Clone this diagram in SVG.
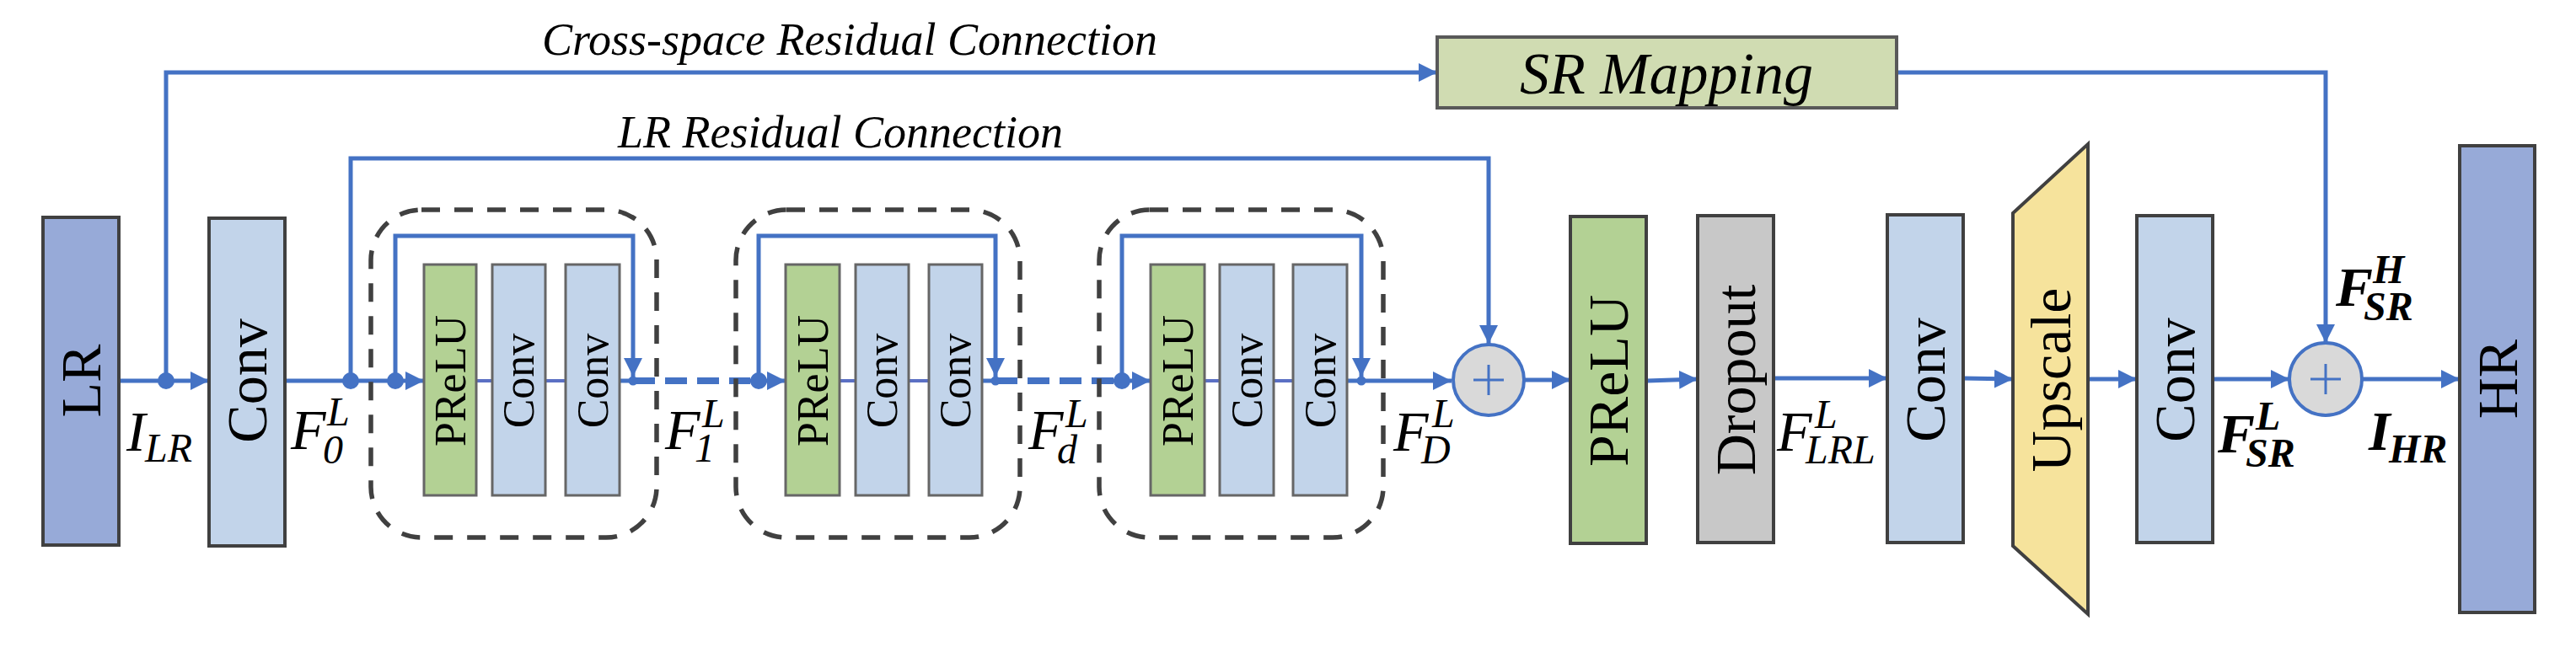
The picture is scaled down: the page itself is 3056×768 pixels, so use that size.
<svg xmlns="http://www.w3.org/2000/svg" width="3056" height="768" viewBox="0 0 3056 768">
<defs>
<marker id="ar" markerUnits="userSpaceOnUse" markerWidth="22" markerHeight="22" refX="22" refY="11" orient="auto">
<path d="M0,0 L22,11 L0,22 z" fill="#4472c4"/>
</marker>
<style>
.big{stroke:#404040;stroke-width:4}
.sm{stroke:#666;stroke-width:3}
.blue{fill:#97aad8}
.conv{fill:#c2d4ea}
.prelu{fill:#b3d194}
.ln{fill:none;stroke:#4472c4;stroke-width:5}
.thin{fill:none;stroke:#5b70c4;stroke-width:4}
.dash{fill:none;stroke:#4472c4;stroke-width:8;stroke-dasharray:26 12}
.dbox{fill:none;stroke:#404040;stroke-width:5.5;stroke-dasharray:22 17}
.dot{fill:#4472c4}
.bt{font-family:"Liberation Serif",serif;font-size:68px;fill:#000;text-anchor:middle;dominant-baseline:central}
.st{font-family:"Liberation Serif",serif;font-size:52px;fill:#000;text-anchor:middle;dominant-baseline:central}
.cap{font-family:"Liberation Serif",serif;font-style:italic;font-size:54px;fill:#000}
.m{font-family:"Liberation Serif",serif;font-style:italic;font-size:68px;fill:#000}
.mb{font-family:"Liberation Serif",serif;font-style:italic;font-weight:bold;font-size:66px;fill:#000}
.sc{font-size:48px}
.add{fill:#d9d9d9;stroke:#4472c4;stroke-width:4}
.plus{stroke:#4472c4;stroke-width:3}
</style>
</defs>
<rect width="3056" height="768" fill="#fff"/>

<g id="captions">
<text class="cap" x="643" y="65">Cross-space Residual Connection</text>
<text class="cap" x="733" y="175">LR Residual Connection</text>
</g>

<g id="connectors">
<!-- cross-space residual -->
<path class="ln" d="M197,452 V86 H1705" marker-end="url(#ar)"/>
<path class="ln" d="M2250,86 H2759 V407" marker-end="url(#ar)"/>
<!-- LR residual -->
<path class="ln" d="M416,452 V188 H1766 V408" marker-end="url(#ar)"/>
<!-- main line -->
<path class="ln" d="M141,452 H248" marker-end="url(#ar)"/>
<path class="ln" d="M338,452 H503" marker-end="url(#ar)"/>
<!-- block 1 -->
<path class="thin" d="M565,452 H584 M647,452 H671"/>
<path class="ln" d="M735,452 H751"/>
<path class="ln" d="M469,452 V280 H751 V447" marker-end="url(#ar)"/>
<path class="dash" d="M751,452 H890"/>
<path class="ln" d="M890,452 H932" marker-end="url(#ar)"/>
<!-- block 2 -->
<path class="thin" d="M996,452 H1015 M1078,452 H1102"/>
<path class="ln" d="M1165,452 H1181"/>
<path class="ln" d="M900,452 V280 H1181 V447" marker-end="url(#ar)"/>
<path class="dash" d="M1181,452 H1321"/>
<path class="ln" d="M1321,452 H1365" marker-end="url(#ar)"/>
<!-- block 3 -->
<path class="thin" d="M1429,452 H1447 M1511,452 H1534"/>
<path class="ln" d="M1331,452 V280 H1615 V447" marker-end="url(#ar)"/>
<path class="ln" d="M1598,452 H1722" marker-end="url(#ar)"/>
<!-- after blocks -->
<path class="ln" d="M1808,451 H1863" marker-end="url(#ar)"/>
<path class="ln" d="M1954,452 L2014,450" marker-end="url(#ar)"/>
<path class="ln" d="M2104,449 H2239" marker-end="url(#ar)"/>
<path class="ln" d="M2329,449 L2388,450" marker-end="url(#ar)"/>
<path class="ln" d="M2477,450 H2535" marker-end="url(#ar)"/>
<path class="ln" d="M2625,450 H2716" marker-end="url(#ar)"/>
<path class="ln" d="M2802,450 H2918" marker-end="url(#ar)"/>
<!-- dots -->
<circle class="dot" cx="197" cy="452" r="10"/>
<circle class="dot" cx="416" cy="452" r="10"/>
<circle class="dot" cx="469" cy="452" r="10"/>
<circle class="dot" cx="900" cy="452" r="10"/>
<circle class="dot" cx="1331" cy="452" r="10"/>
<circle class="dot" cx="751" cy="452" r="5.5"/>
<circle class="dot" cx="1181" cy="452" r="5.5"/>
<circle class="dot" cx="1615" cy="452" r="5.5"/>
</g>

<g id="LR"><rect class="big blue" x="51" y="258" width="90" height="389"/><text class="bt" transform="translate(96,452) rotate(-90)">LR</text></g>
<g id="conv1"><rect class="big conv" x="248" y="259" width="90" height="389"/><text class="bt" transform="translate(293,452) rotate(-90)">Conv</text></g>

<g id="block1">
<rect class="dbox" x="440" y="249" width="339" height="389" rx="60"/>
<rect class="sm prelu" x="503" y="314" width="62" height="274"/><text class="st" transform="translate(534,452) rotate(-90)">PReLU</text>
<rect class="sm conv" x="584" y="314" width="63" height="274"/><text class="st" transform="translate(615,452) rotate(-90)">Conv</text>
<rect class="sm conv" x="671" y="314" width="64" height="274"/><text class="st" transform="translate(703,452) rotate(-90)">Conv</text>
</g>
<g id="block2">
<rect class="dbox" x="873" y="249" width="337" height="389" rx="60"/>
<rect class="sm prelu" x="932" y="314" width="64" height="274"/><text class="st" transform="translate(964,452) rotate(-90)">PReLU</text>
<rect class="sm conv" x="1015" y="314" width="63" height="274"/><text class="st" transform="translate(1046,452) rotate(-90)">Conv</text>
<rect class="sm conv" x="1102" y="314" width="63" height="274"/><text class="st" transform="translate(1133,452) rotate(-90)">Conv</text>
</g>
<g id="block3">
<rect class="dbox" x="1304" y="249" width="337" height="389" rx="60"/>
<rect class="sm prelu" x="1365" y="314" width="64" height="274"/><text class="st" transform="translate(1397,452) rotate(-90)">PReLU</text>
<rect class="sm conv" x="1447" y="314" width="64" height="274"/><text class="st" transform="translate(1479,452) rotate(-90)">Conv</text>
<rect class="sm conv" x="1534" y="314" width="64" height="274"/><text class="st" transform="translate(1566,452) rotate(-90)">Conv</text>
</g>

<g id="add1"><ellipse class="add" cx="1766" cy="451" rx="42" ry="42"/><path class="plus" d="M1748,451 H1784 M1766,433 V469"/></g>
<g id="prelu"><rect class="big prelu" x="1863" y="257" width="90" height="388"/><text class="bt" transform="translate(1908,452) rotate(-90)">PReLU</text></g>
<g id="dropout"><rect class="big" fill="#c8c8c8" x="2014" y="256" width="90" height="388"/><text class="bt" transform="translate(2059,451) rotate(-90)">Dropout</text></g>
<g id="conv2"><rect class="big conv" x="2239" y="255" width="90" height="389"/><text class="bt" transform="translate(2284,451) rotate(-90)">Conv</text></g>
<g id="upscale"><polygon class="big" fill="#f6e39c" points="2388,253 2477,171 2477,729 2388,648"/><text class="bt" transform="translate(2433,451) rotate(-90)">Upscale</text></g>
<g id="conv3"><rect class="big conv" x="2535" y="256" width="90" height="388"/><text class="bt" transform="translate(2580,451) rotate(-90)">Conv</text></g>
<g id="add2"><ellipse class="add" cx="2759" cy="450" rx="43" ry="43"/><path class="plus" d="M2741,450 H2777 M2759,432 V468"/></g>
<g id="HR"><rect class="big blue" x="2918" y="173" width="89" height="554"/><text class="bt" transform="translate(2963,450) rotate(-90)">HR</text></g>
<g id="srmap"><rect fill="#d0dcb2" stroke="#595959" stroke-width="4" x="1705" y="44" width="545" height="84"/><text class="cap" style="font-size:70px" x="1977" y="111" text-anchor="middle">SR Mapping</text></g>

<g id="labels">
<text class="m"><tspan x="150" y="535">I</tspan><tspan class="sc" x="172" y="548">LR</tspan></text>
<text class="m"><tspan x="345" y="533">F</tspan><tspan class="sc" x="388" y="505">L</tspan><tspan class="sc" x="383" y="550">0</tspan></text>
<text class="m"><tspan x="789" y="533">F</tspan><tspan class="sc" x="833" y="507">L</tspan><tspan class="sc" x="824" y="548">1</tspan></text>
<text class="m"><tspan x="1220" y="533">F</tspan><tspan class="sc" x="1264" y="507">L</tspan><tspan class="sc" x="1254" y="550">d</tspan></text>
<text class="m"><tspan x="1653" y="535">F</tspan><tspan class="sc" x="1699" y="507">L</tspan><tspan class="sc" x="1686" y="550">D</tspan></text>
<text class="m"><tspan x="2108" y="535">F</tspan><tspan class="sc" x="2153" y="508">L</tspan><tspan class="sc" x="2142" y="550">LRL</tspan></text>
<text class="mb"><tspan x="2771" y="363">F</tspan><tspan class="sc" x="2815" y="336">H</tspan><tspan class="sc" x="2804" y="380">SR</tspan></text>
<text class="mb"><tspan x="2631" y="537">F</tspan><tspan class="sc" x="2676" y="510">L</tspan><tspan class="sc" x="2664" y="554">SR</tspan></text>
<text class="mb"><tspan x="2810" y="534">I</tspan><tspan class="sc" x="2834" y="549">HR</tspan></text>
</g>
</svg>
